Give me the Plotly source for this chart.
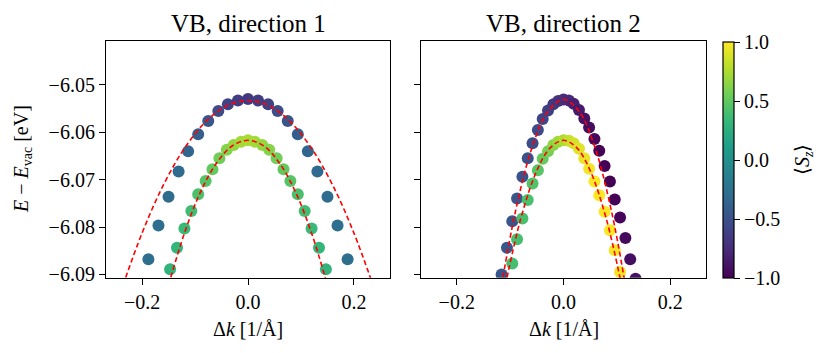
import plotly.graph_objects as go

# ---- direction 1 (left panel) ----
k_d1_upper = [-0.188, -0.169, -0.150, -0.131, -0.113, -0.094, -0.075, -0.056, -0.038, -0.019, 0.0,
              0.019, 0.038, 0.056, 0.075, 0.094, 0.113, 0.131, 0.150, 0.169, 0.188]
E_d1_upper = [-6.0868, -6.0797, -6.0736, -6.0683, -6.0640, -6.0604, -6.0576, -6.0555, -6.0541, -6.0533, -6.0530,
              -6.0533, -6.0541, -6.0555, -6.0576, -6.0604, -6.0640, -6.0683, -6.0736, -6.0797, -6.0868]
Sz_d1_upper = [-0.27, -0.28, -0.30, -0.32, -0.35, -0.40, -0.46, -0.53, -0.60, -0.64, -0.66,
               -0.64, -0.60, -0.53, -0.46, -0.40, -0.35, -0.32, -0.30, -0.28, -0.27]

k_d1_lower = [-0.147, -0.134, -0.120, -0.107, -0.094, -0.080, -0.067, -0.054, -0.040, -0.027, -0.013, 0.0,
              0.013, 0.027, 0.040, 0.054, 0.067, 0.080, 0.094, 0.107, 0.120, 0.134, 0.147]
E_d1_lower = [-6.0889, -6.0844, -6.0803, -6.0766, -6.0731, -6.0703, -6.0678, -6.0655, -6.0637, -6.0627, -6.0620, -6.0617,
              -6.0620, -6.0627, -6.0637, -6.0655, -6.0678, -6.0703, -6.0731, -6.0766, -6.0803, -6.0844, -6.0889]
Sz_d1_lower = [0.30, 0.32, 0.35, 0.38, 0.42, 0.46, 0.51, 0.56, 0.62, 0.68, 0.72, 0.74,
               0.72, 0.68, 0.62, 0.56, 0.51, 0.46, 0.42, 0.38, 0.35, 0.32, 0.30]

# ---- direction 2 (right panel) ----
k_d2_upper = [-0.116, -0.106, -0.096, -0.087, -0.077, -0.067, -0.058, -0.048, -0.039, -0.029, -0.019, -0.010, 0.0,
              0.010, 0.019, 0.029, 0.039, 0.048, 0.058, 0.067, 0.077, 0.087, 0.096, 0.106, 0.116, 0.125, 0.135]
E_d2_upper = [-6.0900, -6.0844, -6.0788, -6.0740, -6.0694, -6.0655, -6.0623, -6.0595, -6.0572, -6.0554, -6.0541, -6.0534,
              -6.0531,
              -6.0533, -6.0540, -6.0553, -6.0571, -6.0590, -6.0614, -6.0639, -6.0671, -6.0704, -6.0742, -6.0780,
              -6.0823, -6.0868, -6.0909]
Sz_d2_upper = [-0.45, -0.45, -0.46, -0.47, -0.48, -0.50, -0.52, -0.55, -0.58, -0.62, -0.66, -0.70, -0.74,
               -0.78, -0.82, -0.86, -0.90, -0.93, -0.96, -0.98, -0.99, -1.0, -0.99, -0.97, -0.95, -0.92, -0.90]

k_d2_lower = [-0.096, -0.087, -0.077, -0.067, -0.058, -0.048, -0.039, -0.029, -0.019, -0.010, 0.0,
              0.010, 0.019, 0.029, 0.039, 0.048, 0.058, 0.067, 0.077, 0.087, 0.096, 0.106]
E_d2_lower = [-6.0877, -6.0826, -6.0782, -6.0743, -6.0708, -6.0680, -6.0656, -6.0640, -6.0627, -6.0620, -6.0617,
              -6.0618, -6.0623, -6.0635, -6.0655, -6.0677, -6.0704, -6.0733, -6.0768, -6.0807, -6.0849, -6.0895]
Sz_d2_lower = [0.40, 0.40, 0.41, 0.42, 0.44, 0.47, 0.52, 0.58, 0.64, 0.70, 0.76,
               0.82, 0.87, 0.91, 0.94, 0.97, 0.99, 1.0, 1.0, 0.99, 0.98, 0.97]

# ---- parabolic fits (red dashed) ----
fit_k_d1_upper = [-0.236, -0.2, -0.16, -0.12, -0.08, -0.04, 0.0, 0.04, 0.08, 0.12, 0.16, 0.2, 0.236]
fit_E_d1_upper = [-6.0923, -6.0813, -6.0712, -6.0634, -6.0578, -6.0544, -6.0533,
                  -6.0544, -6.0578, -6.0634, -6.0712, -6.0813, -6.0923]
fit_k_d1_lower = [-0.150, -0.12, -0.09, -0.06, -0.03, 0.0, 0.03, 0.06, 0.09, 0.12, 0.150]
fit_E_d1_lower = [-6.0923, -6.0813, -6.0727, -6.0666, -6.0629, -6.0617,
                  -6.0629, -6.0666, -6.0727, -6.0813, -6.0923]
fit_k_d2_upper = [-0.116, -0.09, -0.06, -0.03, 0.0, 0.03, 0.06, 0.09, 0.116]
fit_E_d2_upper = [-6.0923, -6.0767, -6.0636, -6.0557, -6.0531, -6.0557, -6.0636, -6.0767, -6.0923]
fit_k_d2_lower = [-0.109, -0.08, -0.05, -0.025, 0.0, 0.025, 0.05, 0.08, 0.109]
fit_E_d2_lower = [-6.0924, -6.0782, -6.0681, -6.0633, -6.0617, -6.0633, -6.0681, -6.0782, -6.0924]

x_ticks = [-0.2, 0.0, 0.2]
x_ticktext = ["\u22120.2", "0.0", "0.2"]
y_ticks = [-6.09, -6.08, -6.07, -6.06, -6.05]
y_ticktext = ["\u22126.09", "\u22126.08", "\u22126.07", "\u22126.06", "\u22126.05"]
cb_ticks = [-1.0, -0.5, 0.0, 0.5, 1.0]
cb_ticktext = ["\u22121.0", "\u22120.5", "0.0", "0.5", "1.0"]

FONT = "Liberation Serif, Times New Roman, serif"
W, H = 831, 353

fig = go.Figure()


def add_band(k, e, sz, xa, ya):
    fig.add_trace(go.Scatter(
        x=k, y=e, mode="markers", xaxis=xa, yaxis=ya, showlegend=False,
        marker=dict(size=12, color=sz, coloraxis="coloraxis", line=dict(width=0)),
    ))


def add_fit(k, e, xa, ya):
    fig.add_trace(go.Scatter(
        x=k, y=e, mode="lines", xaxis=xa, yaxis=ya, showlegend=False,
        line=dict(color="#ff0000", width=1.6, dash="5px,3px", shape="spline"),
    ))


add_band(k_d1_upper, E_d1_upper, Sz_d1_upper, "x", "y")
add_band(k_d1_lower, E_d1_lower, Sz_d1_lower, "x", "y")
add_fit(fit_k_d1_upper, fit_E_d1_upper, "x", "y")
add_fit(fit_k_d1_lower, fit_E_d1_lower, "x", "y")

add_band(k_d2_upper, E_d2_upper, Sz_d2_upper, "x2", "y2")
add_band(k_d2_lower, E_d2_lower, Sz_d2_lower, "x2", "y2")
add_fit(fit_k_d2_upper, fit_E_d2_upper, "x2", "y2")
add_fit(fit_k_d2_lower, fit_E_d2_lower, "x2", "y2")

y_bottom = 1 - 277.7 / H
y_top = 1 - 41.3 / H

axis_common = dict(
    showline=True, linecolor="black", linewidth=1.2, mirror=True,
    ticks="outside", ticklen=6, tickwidth=1.2, tickcolor="black",
    showgrid=False, zeroline=False, automargin=False,
    tickfont=dict(family=FONT, size=20, color="black"),
)

fig.update_layout(
    width=W, height=H,
    margin=dict(l=0, r=0, t=0, b=0),
    template="none",
    paper_bgcolor="white", plot_bgcolor="white",
    font=dict(family=FONT, size=20, color="black"),
    xaxis=dict(domain=[106 / W, 390 / W], range=[-0.268, 0.268], anchor="y",
               tickvals=x_ticks, ticktext=x_ticktext, **axis_common),
    yaxis=dict(domain=[y_bottom, y_top], range=[-6.0907, -6.0408], anchor="x",
               tickvals=y_ticks, ticktext=y_ticktext, **axis_common),
    xaxis2=dict(domain=[421 / W, 706 / W], range=[-0.267, 0.267], anchor="y2",
                tickvals=x_ticks, ticktext=x_ticktext, **axis_common),
    yaxis2=dict(domain=[y_bottom, y_top], range=[-6.0907, -6.0408], anchor="x2",
                tickvals=y_ticks, showticklabels=False, **axis_common),
    coloraxis=dict(
        colorscale="Viridis", cmin=-1, cmax=1,
        colorbar=dict(
            x=722.7 / W, xanchor="left", xpad=0, ypad=0,
            y=1 - 278 / H, yanchor="bottom", len=(278 - 41.7) / H, lenmode="fraction",
            thickness=11, outlinewidth=1.2, outlinecolor="black",
            ticks="outside", ticklen=6, tickwidth=1.2, tickcolor="black",
            tickvals=cb_ticks, ticktext=cb_ticktext,
            tickfont=dict(family=FONT, size=20, color="black"),
        ),
    ),
)


def label(text, x, y, size, angle=0):
    fig.add_annotation(text=text, x=x / W, y=1 - y / H, xref="paper", yref="paper",
                       xanchor="center", yanchor="middle", showarrow=False, textangle=angle,
                       font=dict(family=FONT, size=size, color="black"))


label("VB, direction 1", 248, 23, 25)
label("VB, direction 2", 563.5, 23, 25)
label("\u0394<i>k</i> [1/\u00c5]", 248, 329, 20)
label("\u0394<i>k</i> [1/\u00c5]", 563.5, 329, 20)
label("<i>E</i> \u2212 <i>E</i><sub>vac</sub> [eV]", 22, 159, 20, -90)
label("\u27e8<i>S<sub>z</sub></i>\u27e9", 803, 160, 20, -90)

# no page margin, so the figure sits at the window's top-left corner
fig.write_html("out.html", config={"displayModeBar": False},
               post_script="document.body.style.margin='0';")
